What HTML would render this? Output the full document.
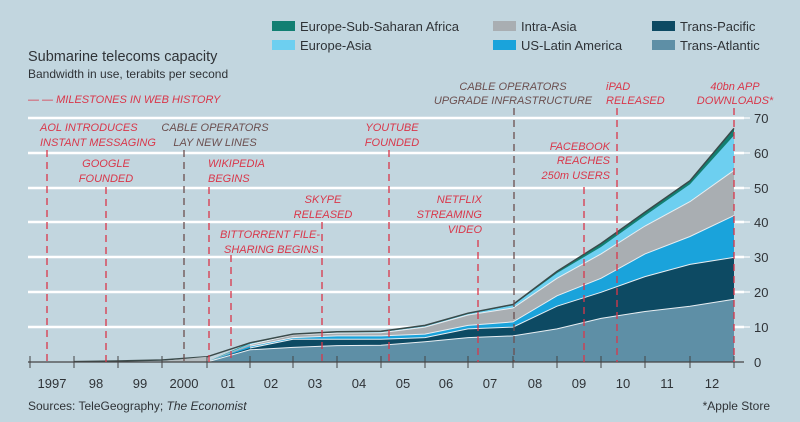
<!DOCTYPE html>
<html><head><style>
body{margin:0;background:#c2d6df}
svg{display:block}
.t{font-family:"Liberation Sans",sans-serif;fill:#2f3337}
.m{font-family:"Liberation Sans",sans-serif;font-style:italic;font-size:11px;fill:#d9374a}
.g{fill:#6b4f4f}
</style></head><body>
<svg width="800" height="422" viewBox="0 0 800 422" xmlns="http://www.w3.org/2000/svg">
<rect width="800" height="422" fill="#c2d6df"/>
<text class="t" x="28" y="61" font-size="14.5">Submarine telecoms capacity</text>
<text class="t" x="28" y="78" font-size="12">Bandwidth in use, terabits per second</text>
<text class="m" x="28" y="103" font-size="11">— — MILESTONES IN WEB HISTORY</text>
<!-- legend -->
<g font-family="Liberation Sans,sans-serif" font-size="13" fill="#2f3337">
<rect x="272" y="21" width="23" height="10" fill="#127f72"/><text x="300" y="31">Europe-Sub-Saharan Africa</text>
<rect x="272" y="40" width="23" height="10" fill="#6dcff0"/><text x="300" y="50">Europe-Asia</text>
<rect x="493" y="21" width="23" height="10" fill="#a9aeb2"/><text x="521" y="31">Intra-Asia</text>
<rect x="493" y="40" width="23" height="10" fill="#1aa3db"/><text x="521" y="50">US-Latin America</text>
<rect x="652" y="21" width="23" height="10" fill="#0d4a63"/><text x="680" y="31">Trans-Pacific</text>
<rect x="652" y="40" width="23" height="10" fill="#5e8fa6"/><text x="680" y="50">Trans-Atlantic</text>
</g>
<!-- grid -->
<g stroke="#fff" stroke-width="2.5">
<line x1="28" y1="118" x2="744" y2="118"/><line x1="28" y1="153" x2="744" y2="153"/>
<line x1="28" y1="188" x2="744" y2="188"/><line x1="28" y1="222" x2="744" y2="222"/>
<line x1="28" y1="257" x2="744" y2="257"/><line x1="28" y1="292" x2="744" y2="292"/>
<line x1="28" y1="327" x2="744" y2="327"/>
</g>
<g stroke="#fff" stroke-width="1.2"><line x1="734" y1="118" x2="750" y2="118"/><line x1="734" y1="153" x2="750" y2="153"/><line x1="734" y1="188" x2="750" y2="188"/><line x1="734" y1="222" x2="750" y2="222"/><line x1="734" y1="257" x2="750" y2="257"/><line x1="734" y1="292" x2="750" y2="292"/><line x1="734" y1="327" x2="750" y2="327"/></g>
<g font-family="Liberation Sans,sans-serif" font-size="13" fill="#2f3337">
<text x="754" y="123">70</text><text x="754" y="158">60</text><text x="754" y="193">50</text><text x="754" y="227">40</text><text x="754" y="262">30</text><text x="754" y="297">20</text><text x="754" y="332">10</text><text x="754" y="367">0</text>
</g>
<!-- areas: y = 362 - v*3.486 -->
<polygon fill="#127f72" points="207,362 250,342.8 293,334.1 337,331.7 381,331.3 425,325.4 468,313.2 513,304.5 557,271.4 601,243.5 645,212.1 690,180.7 734,128.4 734,362"/>
<polygon fill="#6dcff0" points="207,362 250,343.5 293,334.8 337,332.4 381,332 425,326.1 468,314 513,305.2 557,273.1 601,247 645,215.6 690,184.2 734,135.4 734,362"/>
<polygon fill="#a9aeb2" points="207,362 250,344.6 293,334.8 337,333.1 381,332.7 425,327.1 468,315 513,308 557,278.3 601,253.9 645,226 690,201.6 734,170.3 734,362"/>
<polygon fill="#1aa3db" points="207,362 250,346.3 293,337.6 337,335.9 381,335.9 425,334.1 468,325.4 513,321.9 557,295.8 601,278.3 645,253.9 690,236.5 734,215.6 734,362"/>
<polygon fill="#0d4a63" points="207,362 250,348 293,339.3 337,339.3 381,339.3 425,337.6 468,328.9 513,327.1 557,306.2 601,292.3 645,276.6 690,264.4 734,257.4 734,362"/>
<polygon fill="#5e8fa6" points="207,362 250,349.8 293,347.4 337,345.6 381,345.3 425,341.8 468,337.6 513,335.9 557,328.9 601,318.4 645,311.5 690,306.2 734,299.3 734,362"/>
<g fill="none" stroke="#e8eef2" stroke-width="1">
<polyline points="207,362 250,349.8 293,347.4 337,345.6 381,345.3 425,341.8 468,337.6 513,335.9 557,328.9 601,318.4 645,311.5 690,306.2 734,299.3"/>
<polyline points="250,348 293,339.3 337,339.3 381,339.3 425,337.6 468,328.9 513,327.1 557,306.2 601,292.3 645,276.6 690,264.4 734,257.4"/>
<polyline points="250,346.3 293,337.6 337,335.9 381,335.9 425,334.1 468,325.4 513,321.9 557,295.8 601,278.3 645,253.9 690,236.5 734,215.6"/>
<polyline points="250,344.6 293,334.8 337,333.1 381,332.7 425,327.1 468,315 513,308 557,278.3 601,253.9 645,226 690,201.6 734,170.3"/>
</g>
<polyline fill="none" stroke="#3a4a4a" stroke-width="1.5" points="74,361.6 118,361 162,360 207,356.8 250,342.8 293,334.1 337,331.7 381,331.3 425,325.4 468,313.2 513,304.5 557,271.4 601,243.5 645,212.1 690,180.7 734,128.4"/>
<polygon fill="#b4bcc0" points="162,361 207,356.8 207,362 162,362"/>
<!-- axis -->
<line x1="28" y1="362" x2="744" y2="362" stroke="#444" stroke-width="1.2"/>
<g stroke="#444" stroke-width="1">
<line x1="30" y1="356" x2="30" y2="368"/><line x1="74" y1="356" x2="74" y2="368"/><line x1="118" y1="356" x2="118" y2="368"/><line x1="162" y1="356" x2="162" y2="368"/><line x1="207" y1="356" x2="207" y2="368"/><line x1="250" y1="356" x2="250" y2="368"/><line x1="293" y1="356" x2="293" y2="368"/><line x1="337" y1="356" x2="337" y2="368"/><line x1="381" y1="356" x2="381" y2="368"/><line x1="425" y1="356" x2="425" y2="368"/><line x1="468" y1="356" x2="468" y2="368"/><line x1="513" y1="356" x2="513" y2="368"/><line x1="557" y1="356" x2="557" y2="368"/><line x1="601" y1="356" x2="601" y2="368"/><line x1="645" y1="356" x2="645" y2="368"/><line x1="690" y1="356" x2="690" y2="368"/><line x1="734" y1="356" x2="734" y2="368"/>
</g>
<g font-family="Liberation Sans,sans-serif" font-size="13" fill="#2f3337" text-anchor="middle">
<text x="52" y="388">1997</text><text x="96" y="388">98</text><text x="140" y="388">99</text><text x="184" y="388">2000</text><text x="228" y="388">01</text><text x="271" y="388">02</text><text x="315" y="388">03</text><text x="359" y="388">04</text><text x="403" y="388">05</text><text x="446" y="388">06</text><text x="490" y="388">07</text><text x="535" y="388">08</text><text x="579" y="388">09</text><text x="623" y="388">10</text><text x="667" y="388">11</text><text x="712" y="388">12</text>
</g>
<text class="t" x="28" y="410" font-size="12">Sources: TeleGeography; <tspan font-style="italic">The Economist</tspan></text>
<text class="t" x="770" y="410" font-size="12" text-anchor="end">*Apple Store</text>
<!-- milestone lines -->
<g stroke="#d9374a" stroke-width="1.3" stroke-dasharray="7,5">
<line x1="47" y1="150" x2="47" y2="362"/><line x1="106" y1="187" x2="106" y2="362"/>
<line x1="209" y1="187" x2="209" y2="362"/><line x1="231" y1="255" x2="231" y2="362"/>
<line x1="322" y1="222" x2="322" y2="362"/><line x1="389" y1="150" x2="389" y2="362"/>
<line x1="478" y1="240" x2="478" y2="362"/><line x1="584" y1="187" x2="584" y2="362"/>
<line x1="617" y1="108" x2="617" y2="362"/><line x1="734" y1="108" x2="734" y2="362"/>
</g>
<g stroke="#6b4f4f" stroke-width="1.3" stroke-dasharray="7,5">
<line x1="184" y1="150" x2="184" y2="362"/><line x1="514" y1="108" x2="514" y2="362"/>
</g>
<!-- milestone labels -->
<text class="m" x="40" y="131">AOL INTRODUCES</text><text class="m" x="40" y="146">INSTANT MESSAGING</text>
<text class="m" x="106" y="167" text-anchor="middle">GOOGLE</text><text class="m" x="106" y="182" text-anchor="middle">FOUNDED</text>
<text class="m g" x="215" y="131" text-anchor="middle">CABLE OPERATORS</text><text class="m g" x="215" y="146" text-anchor="middle">LAY NEW LINES</text>
<text class="m" x="208" y="167">WIKIPEDIA</text><text class="m" x="208" y="182">BEGINS</text>
<text class="m" x="323" y="203" text-anchor="middle">SKYPE</text><text class="m" x="323" y="218" text-anchor="middle">RELEASED</text>
<text class="m" x="220" y="238">BITTORRENT FILE-</text><text class="m" x="224" y="253">SHARING BEGINS</text>
<text class="m" x="392" y="131" text-anchor="middle">YOUTUBE</text><text class="m" x="392" y="146" text-anchor="middle">FOUNDED</text>
<text class="m" x="482" y="203" text-anchor="end">NETFLIX</text><text class="m" x="482" y="218" text-anchor="end">STREAMING</text><text class="m" x="482" y="233" text-anchor="end">VIDEO</text>
<text class="m g" x="513" y="90" text-anchor="middle">CABLE OPERATORS</text><text class="m g" x="513" y="104" text-anchor="middle">UPGRADE INFRASTRUCTURE</text>
<text class="m" x="610" y="150" text-anchor="end">FACEBOOK</text><text class="m" x="610" y="164" text-anchor="end">REACHES</text><text class="m" x="610" y="179" text-anchor="end">250m USERS</text>
<text class="m" x="606" y="90">iPAD</text><text class="m" x="606" y="104">RELEASED</text>
<text class="m" x="735" y="90" text-anchor="middle">40bn APP</text><text class="m" x="735" y="104" text-anchor="middle">DOWNLOADS*</text>
</svg>
</body></html>
